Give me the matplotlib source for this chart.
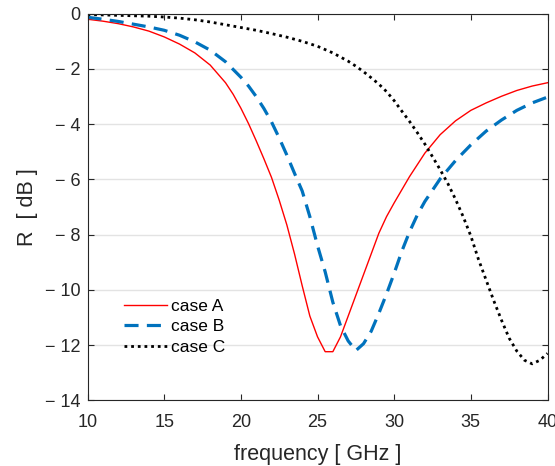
import matplotlib
matplotlib.use('Agg')
from matplotlib import pyplot as plt
from matplotlib.ticker import FixedLocator, FuncFormatter

plt.rcParams['font.family'] = ['Liberation Sans', 'DejaVu Sans']

# case A (red, solid)
freq_a = [10, 11, 12, 13, 14, 15, 16, 17, 18, 19, 19.5, 20, 20.5, 21, 21.5, 22, 22.5,
          23, 23.5, 24, 24.5, 25, 25.5, 26, 26.5, 27, 27.5, 28, 28.5, 29, 29.5, 30,
          31, 32, 33, 34, 35, 36, 37, 38, 39, 40]
r_a = [-0.2, -0.27, -0.36, -0.48, -0.63, -0.84, -1.1, -1.42, -1.86, -2.5, -2.92, -3.42,
       -3.98, -4.6, -5.25, -5.93, -6.75, -7.65, -8.7, -9.85, -10.95, -11.7, -12.24, -12.24,
       -11.7, -10.95, -10.2, -9.45, -8.7, -7.95, -7.35, -6.85,
       -5.9, -5.05, -4.38, -3.88, -3.5, -3.23, -2.99, -2.78, -2.62, -2.5]

# case B (blue, dashed)
freq_b = [10, 11, 12, 13, 14, 15, 16, 17, 18, 19, 20, 20.5, 21, 21.5, 22, 22.5, 23,
          23.5, 24, 24.5, 25, 25.5, 26, 26.5, 27, 27.5, 28, 28.5, 29, 29.5, 30, 30.5,
          31, 31.5, 32, 33, 34, 35, 36, 37, 38, 39, 40]
r_b = [-0.13, -0.2, -0.28, -0.38, -0.48, -0.6, -0.78, -1.02, -1.32, -1.74, -2.3, -2.62,
       -3.0, -3.43, -3.92, -4.5, -5.12, -5.78, -6.42, -7.35, -8.4, -9.35, -10.45, -11.3,
       -11.85, -12.2, -11.95, -11.5, -10.85, -10.15, -9.4, -8.6,
       -7.9, -7.3, -6.8, -5.98, -5.32, -4.75, -4.25, -3.85, -3.5, -3.23, -3.02]

# case C (black, dotted)
freq_c = [10, 12, 14, 15, 16, 17, 18, 19, 20, 21, 22, 23, 24, 25, 26, 27, 27.5, 28,
          28.5, 29, 29.5, 30, 30.5, 31, 31.5, 32, 32.5, 33, 33.5, 34, 34.5, 35, 35.5,
          36, 36.5, 37, 37.5, 38, 38.5, 39, 39.5, 40]
r_c = [-0.03, -0.06, -0.09, -0.12, -0.16, -0.22, -0.3, -0.4, -0.5, -0.6, -0.72,
       -0.85, -1.0, -1.18, -1.42, -1.72, -1.9, -2.1, -2.32, -2.55, -2.82, -3.15, -3.53,
       -3.9, -4.3, -4.72, -5.18, -5.65, -6.15, -6.72, -7.35, -8.05, -8.9, -9.65, -10.4,
       -11.1, -11.75, -12.22, -12.55, -12.68, -12.55, -12.3]

x_ticks = [10, 15, 20, 25, 30, 35, 40]
y_ticks = [0, -2, -4, -6, -8, -10, -12, -14]

txt_color = '#262626'

fig = plt.figure(figsize=(5.55, 4.66), dpi=100)
ax = fig.add_axes([0.1577, 0.141, 0.8288, 0.8296])

ax.plot(freq_a, r_a, color='#FF0000', lw=1.0, label='case A')
ax.plot(freq_b, r_b, color='#0072BD', lw=2.3, linestyle=(0, (4.4, 2.6)), label='case B')
ax.plot(freq_c, r_c, color='black', lw=2.0, linestyle=(0, (1, 1.4)), label='case C')

ax.set_xlim(10, 40)
ax.set_ylim(-14, 0)
ax.xaxis.set_major_locator(FixedLocator(x_ticks))
ax.yaxis.set_major_locator(FixedLocator(y_ticks))
ax.yaxis.set_major_formatter(FuncFormatter(
    lambda v, p: '0' if v == 0 else '\u2212 %d' % abs(v)))

ax.grid(True, axis='y', color='#E3E3E3', lw=1.0)
ax.set_axisbelow(True)
ax.tick_params(direction='in', length=4, width=0.8, colors=txt_color,
               labelsize=13, top=True, right=True)
ax.tick_params(axis='x', pad=10)
ax.tick_params(axis='y', pad=5)
for s in ax.spines.values():
    s.set_color(txt_color)
    s.set_linewidth(0.8)

ax.set_xlabel('frequency [ GHz ]', fontsize=15.5, color=txt_color, labelpad=9)
ax.set_ylabel('R  [ dB ]', fontsize=15.5, color=txt_color, labelpad=5)

ax.legend(loc='center left', bbox_to_anchor=(0.08, 0.19), frameon=False,
          fontsize=12.5, handlelength=2.45, handletextpad=0.23, labelspacing=0.3,
          borderpad=0, borderaxespad=0)

plt.savefig('out.png', dpi=100)
